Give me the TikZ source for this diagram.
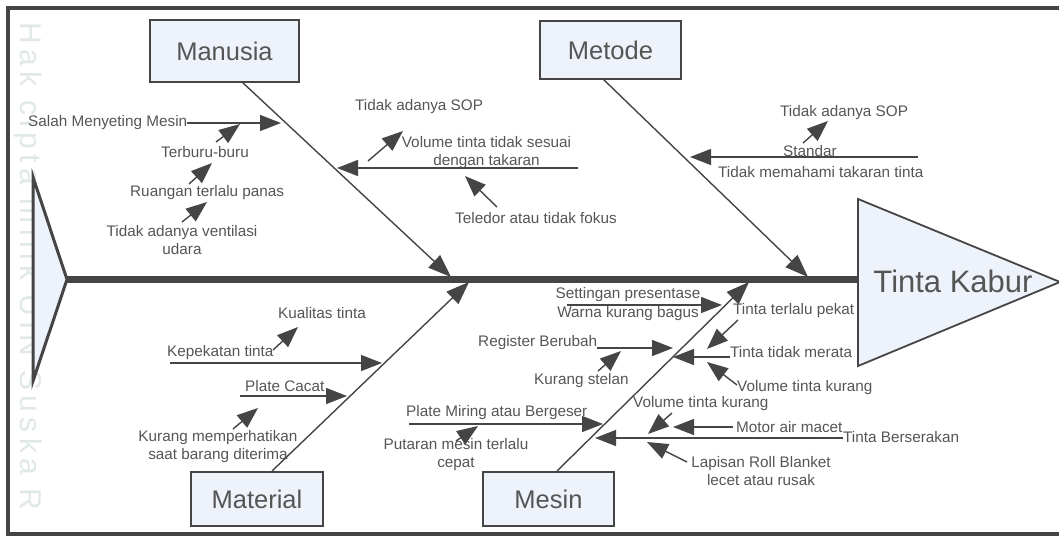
\documentclass[tikz,border=0pt]{standalone}
\usepackage{fontspec}
\setmainfont{Liberation Sans}
\newfontfamily\wmfont[LetterSpace=18]{Liberation Sans}
\usetikzlibrary{arrows.meta}
\definecolor{ln}{HTML}{454545}
\definecolor{txt}{HTML}{555555}
\definecolor{fillb}{HTML}{EEF2FA}
\definecolor{wm}{HTML}{E0E9E5}
\tikzset{
  lbl/.style={font=\fontsize{15.3}{18}\selectfont, text=txt, inner sep=0pt, anchor=west},
  lbltwo/.style={font=\fontsize{15.3}{18.5}\selectfont, text=txt, inner sep=0pt, align=center},
  cat/.style={draw=ln, line width=1.5pt, fill=fillb, font=\fontsize{25.5}{28}\selectfont, text=txt, inner sep=0pt},
  bone/.style={draw=ln, line width=1.4pt, -{Triangle[length=23pt,width=17pt]}},
  subarr/.style={draw=ln, line width=1.4pt, -{Triangle[length=21pt,width=16pt]}},
}
\begin{document}
\begin{tikzpicture}[x=1pt,y=-1pt]
\useasboundingbox (0,0) rectangle (1059,536);
% watermark
\node[font=\wmfont\fontsize{30}{30}\selectfont, text=wm, rotate=-90, anchor=west, inner sep=0pt] (wmk) at (28,22) {Hak cipta milik UIN Suska R};
% frame
\draw[ln, line width=4pt] (8,8) rectangle (1075,533.5);
% tail
\coordinate (tailtop) at (33,177);
\coordinate (tailtip) at (67,279.5);
\coordinate (tailbot) at (33,381);
\draw[ln, line width=3pt, fill=fillb, line join=miter] (tailtop) -- (tailtip) -- (tailbot) -- cycle;
% head
\coordinate (headtop) at (858,199);
\coordinate (headtip) at (1060,282);
\coordinate (headbot) at (858,366);
\coordinate (headbase) at (858,279.5);
\draw[ln, line width=7pt] (tailtip) -- (headbase);
\draw[ln, line width=1.8pt, fill=fillb] (headtop) -- (headtip) -- (headbot) -- cycle;
\node[font=\fontsize{31}{34}\selectfont, text=txt, inner sep=0pt] (head) at (953,281) {Tinta Kabur};
% category boxes
\node[cat, minimum width=149pt, minimum height=62pt] (man) at (224.5,51) {Manusia};
\node[cat, minimum width=141pt, minimum height=58pt] (met) at (610.5,50) {Metode};
\node[cat, minimum width=132pt, minimum height=54pt] (mat) at (257,499) {Material};
\node[cat, minimum width=131pt, minimum height=54pt] (mes) at (548.5,499) {Mesin};
% main bones
\coordinate (manb) at (242,82);   \coordinate (mant) at (451,277);
\coordinate (metb) at (603,79);   \coordinate (mett) at (808,277);
\coordinate (matb) at (272,471);  \coordinate (matt) at (469,282);
\coordinate (mesb) at (557,471);  \coordinate (mest) at (749,282);
\draw[bone] (manb) -- (mant);
\draw[bone] (metb) -- (mett);
\draw[bone] (matb) -- (matt);
\draw[bone] (mesb) -- (mest);
% ---- Manusia
\node[lbl] (sms) at (28,123) {Salah Menyeting Mesin};
\node[lbl] (tb) at (161,152) {Terburu-buru};
\node[lbl] (rtp) at (130,193) {Ruangan terlalu panas};
\node[lbltwo] (tav) at (182,240) {Tidak adanya ventilasi\\udara};
\node[lbl] (sopa) at (355,107) {Tidak adanya SOP};
\node[lbltwo] (vts) at (486.5,152.5) {Volume tinta tidak sesuai\\dengan takaran};
\node[lbl] (tel) at (455,218) {Teledor atau tidak fokus};
\coordinate (smst) at (281,123);
\coordinate (tbs) at (216,142);  \coordinate (tbt) at (240,124);
\coordinate (rtps) at (189,184); \coordinate (rtpt) at (212,163);
\coordinate (tavs) at (182,222); \coordinate (tavt) at (207,202);
\coordinate (sopas) at (368,161); \coordinate (sopat) at (403,131);
\coordinate (vtss) at (578,168); \coordinate (vtst) at (337,168);
\coordinate (tels) at (497,207); \coordinate (telt) at (465,176);
\draw[subarr] (sms.east) -- (smst);
\draw[subarr] (tbs) -- (tbt);
\draw[subarr] (rtps) -- (rtpt);
\draw[subarr] (tavs) -- (tavt);
\draw[subarr] (sopas) -- (sopat);
\draw[subarr] (vtss) -- (vtst);
\draw[subarr] (tels) -- (telt);
% ---- Metode
\node[lbl] (sopb) at (780,113) {Tidak adanya SOP};
\node[lbl] (std) at (783,151) {Standar};
\node[lbl] (tmt) at (718,172) {Tidak memahami takaran tinta};
\coordinate (sopbs) at (803,143); \coordinate (sopbt) at (828,121);
\coordinate (stds) at (918,157); \coordinate (stdt) at (690,157);
\draw[subarr] (sopbs) -- (sopbt);
\draw[subarr] (stds) -- (stdt);
% ---- Material
\node[lbl] (kual) at (278,313) {Kualitas tinta};
\node[lbl] (kep) at (167,353) {Kepekatan tinta};
\node[lbl] (pc) at (245,386) {Plate Cacat};
\node[lbltwo] (km) at (218,446.5) {Kurang memperhatikan\\saat barang diterima};
\coordinate (kuals) at (273,350); \coordinate (kualt) at (298,327);
\coordinate (keps) at (170,363); \coordinate (kept) at (382,363);
\coordinate (pcs) at (240,396); \coordinate (pct) at (347,396);
\coordinate (kms) at (233,429); \coordinate (kmt) at (258,408);
\draw[subarr] (kuals) -- (kualt);
\draw[subarr] (keps) -- (kept);
\draw[subarr] (pcs) -- (pct);
\draw[subarr] (kms) -- (kmt);
% ---- Mesin
\node[lbltwo] (setp) at (628,304) {Settingan presentase\\Warna kurang bagus};
\node[lbl] (ttp) at (733,311) {Tinta terlalu pekat};
\node[lbl] (reg) at (478,343) {Register Berubah};
\node[lbl] (ks) at (534,381) {Kurang stelan};
\node[lbl] (ttm) at (730,352) {Tinta tidak merata};
\node[lbl] (vtka) at (737,388) {Volume tinta kurang};
\node[lbl] (vtkb) at (633,404) {Volume tinta kurang};
\node[lbl] (mam) at (736,427) {Motor air macet};
\node[lbl] (tbsk) at (843,437) {Tinta Berserakan};
\node[lbltwo] (lrb) at (761,471) {Lapisan Roll Blanket\\lecet atau rusak};
\node[lbl] (pmb) at (406,413) {Plate Miring atau Bergeser};
\node[lbltwo] (pmt) at (456,454.5) {Putaran mesin terlalu\\cepat};
\coordinate (sets) at (567,305); \coordinate (sett) at (722,305);
\coordinate (ttps) at (738,320); \coordinate (ttpt) at (707,349);
\coordinate (regs) at (597,348); \coordinate (regt) at (673,348);
\coordinate (kss) at (598,371); \coordinate (kst) at (621,351);
\coordinate (ttms) at (730,357); \coordinate (ttmt) at (673,357);
\coordinate (vtkas) at (737,385); \coordinate (vtkat) at (707,362);
\coordinate (vtkbs) at (672,413); \coordinate (vtkbt) at (648,434);
\coordinate (mams) at (733,427); \coordinate (mamt) at (673,427);
\coordinate (tbsks) at (843,438); \coordinate (tbskt) at (595,438);
\coordinate (lrbs) at (687,462); \coordinate (lrbt) at (647,442);
\coordinate (pmbs) at (409,424); \coordinate (pmbt) at (603,424);
\coordinate (pmts) at (456,441); \coordinate (pmtt) at (478,426);
\draw[subarr] (sets) -- (sett);
\draw[subarr] (ttps) -- (ttpt);
\draw[subarr] (regs) -- (regt);
\draw[subarr] (kss) -- (kst);
\draw[subarr] (ttms) -- (ttmt);
\draw[subarr] (vtkas) -- (vtkat);
\draw[subarr] (vtkbs) -- (vtkbt);
\draw[subarr] (mams) -- (mamt);
\draw[subarr] (tbsks) -- (tbskt);
\draw[subarr] (lrbs) -- (lrbt);
\draw[subarr] (pmbs) -- (pmbt);
\draw[subarr] (pmts) -- (pmtt);
\end{tikzpicture}
\end{document}
